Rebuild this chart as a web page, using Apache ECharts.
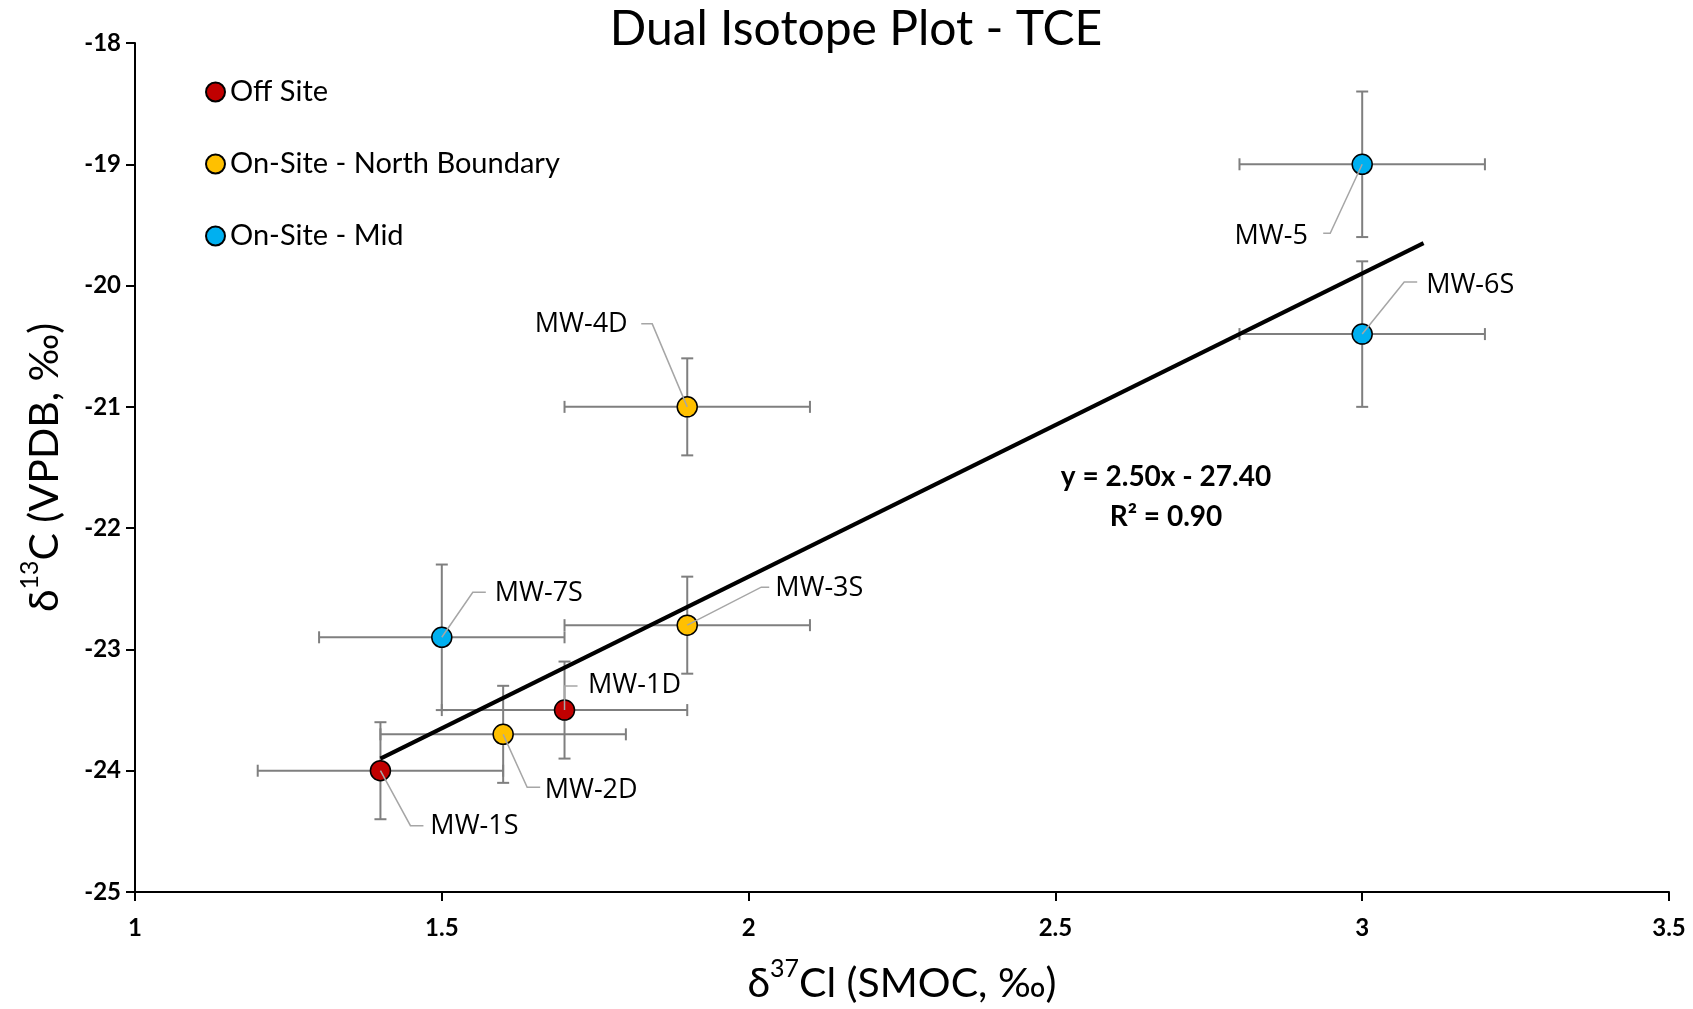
<!DOCTYPE html>
<html>
<head>
<meta charset="utf-8">
<script src="https://cdn.jsdelivr.net/npm/echarts@6/dist/echarts.min.js"></script>
<style>
html,body{margin:0;padding:0;background:#fff;}
#chart{width:1693px;height:1009px;}
</style>
</head>
<body>
<div id="chart"></div>
<script>
// ---------------- data ----------------
const groups = ['Off Site', 'On-Site - North Boundary', 'On-Site - Mid'];
const wellNames = ['MW-1S', 'MW-1D', 'MW-2D', 'MW-3S', 'MW-4D', 'MW-5', 'MW-6S', 'MW-7S'];
const wellGroup = [0, 0, 1, 1, 1, 2, 2, 2];
const cl37 = [1.4, 1.7, 1.6, 1.9, 1.9, 3.0, 3.0, 1.5];
const c13 = [-24.0, -23.5, -23.7, -22.8, -21.0, -19.0, -20.4, -22.9];
const cl37Err = [0.2, 0.2, 0.2, 0.2, 0.2, 0.2, 0.2, 0.2];
const c13Err = [0.4, 0.4, 0.4, 0.4, 0.4, 0.6, 0.6, 0.6];
const trendX = [1.4, 3.1];
const trendY = [-23.9, -19.65];
const xTicks = [1, 1.5, 2, 2.5, 3, 3.5];
const yTicks = [-25, -24, -23, -22, -21, -20, -19, -18];

// ---------------- styling (not data) ----------------
const groupColors = ['#C00000', '#FFC000', '#00B0F0'];
// label placement in pixels relative to the point: [labelDx, labelDy, elbowDx, elbowDy, endDx]
const labelPlace = {
  'MW-1S': [94, 56, 30, 55, 43],
  'MW-1D': [70, -25, 0, -24, 13],
  'MW-2D': [88, 56, 24, 53, 37],
  'MW-3S': [132, -37, 74, -38, 82],
  'MW-4D': [-106, -83, -35, -83, -46],
  'MW-5': [-91, 72, -32, 69, -39],
  'MW-6S': [108, -49, 42, -52, 55],
  'MW-7S': [97, -44, 31, -45, 44]
};

const chart = echarts.init(document.getElementById('chart'));

const scatterSeries = groups.map((g, gi) => ({
  name: g,
  type: 'scatter',
  symbol: 'circle',
  symbolSize: 20,
  z: 5,
  itemStyle: { color: groupColors[gi], borderColor: '#000', borderWidth: 1.5, opacity: 1 },
  data: wellNames.map((n, i) => wellGroup[i] === gi ? [cl37[i], c13[i]] : null).filter(d => d)
}));

const errData = wellNames.map((n, i) => [cl37[i], c13[i], cl37Err[i], c13Err[i]]);
const labelData = wellNames.map((n, i) => [cl37[i], c13[i], i]);

const barStyle = { stroke: '#7F7F7F', lineWidth: 2 };
const cap = 6;

const errorSeries = {
  type: 'custom',
  name: 'err',
  z: 3,
  silent: true,
  data: errData,
  renderItem: function (params, api) {
    const x = api.value(0), y = api.value(1), ex = api.value(2), ey = api.value(3);
    const l = api.coord([x - ex, y]), r = api.coord([x + ex, y]);
    const t = api.coord([x, y + ey]), b = api.coord([x, y - ey]);
    const seg = (x1, y1, x2, y2) => ({ type: 'line', shape: { x1, y1, x2, y2 }, style: barStyle });
    return {
      type: 'group',
      children: [
        seg(l[0], l[1], r[0], r[1]),
        seg(l[0], l[1] - cap, l[0], l[1] + cap),
        seg(r[0], r[1] - cap, r[0], r[1] + cap),
        seg(t[0], t[1], b[0], b[1]),
        seg(t[0] - cap, t[1], t[0] + cap, t[1]),
        seg(b[0] - cap, b[1], b[0] + cap, b[1])
      ]
    };
  }
};

const labelSeries = {
  type: 'custom',
  name: 'labels',
  z: 6,
  silent: true,
  data: labelData,
  renderItem: function (params, api) {
    const idx = api.value(2);
    const name = wellNames[idx];
    const p = labelPlace[name];
    const c = api.coord([api.value(0), api.value(1)]);
    return {
      type: 'group',
      children: [
        {
          type: 'polyline',
          shape: { points: [[c[0], c[1]], [c[0] + p[2], c[1] + p[3]], [c[0] + p[4], c[1] + p[3]]] },
          style: { stroke: '#A6A6A6', lineWidth: 1.5, fill: null }
        },
        {
          type: 'text',
          x: c[0] + p[0], y: c[1] + p[1],
          style: {
            text: name, fontFamily: 'Open Sans', fontSize: 27, fill: '#000',
            align: 'center', verticalAlign: 'middle'
          }
        }
      ]
    };
  }
};

const trendSeries = {
  type: 'line',
  name: 'trend',
  z: 4,
  silent: true,
  symbol: 'none',
  lineStyle: { color: '#000', width: 4 },
  data: trendX.map((x, i) => [x, trendY[i]])
};

const nameRich = {
  t: { fontFamily: 'Lato', fontSize: 41, color: '#000', lineHeight: 48, verticalAlign: 'bottom' },
  s: { fontFamily: 'Lato', fontSize: 25, color: '#000', lineHeight: 48, verticalAlign: 'top' }
};

const option = {
  backgroundColor: '#fff',
  animation: false,
  title: {
    text: 'Dual Isotope Plot - TCE',
    left: 851, top: 1, textAlign: 'center',
    textStyle: { fontFamily: 'Lato', fontWeight: 'normal', fontSize: 48, color: '#000' }
  },
  legend: {
    data: groups,
    orient: 'vertical',
    left: 205, top: 77,
    padding: 0,
    itemWidth: 19, itemHeight: 19,
    itemGap: 42,
    icon: 'circle',
    textStyle: { fontFamily: 'Lato', fontSize: 29, color: '#000', lineHeight: 30 }
  },
  grid: { left: 135, right: 24, top: 43, bottom: 114, containLabel: false },
  xAxis: {
    type: 'value', min: 1, max: 3.5, interval: 0.5,
    name: '{t|δ}{s|37}{t|Cl (SMOC, ‰)}',
    nameLocation: 'middle', nameGap: 64,
    nameTextStyle: { rich: nameRich },
    axisLine: { lineStyle: { color: '#000', width: 2 } },
    axisTick: { show: true, length: 9, inside: false, lineStyle: { color: '#000', width: 2 } },
    axisLabel: {
      fontFamily: 'Lato', fontWeight: 'bold', fontSize: 24, color: '#000', margin: 24,
      formatter: v => String(xTicks.find(t => Math.abs(t - v) < 1e-9) ?? v)
    },
    splitLine: { show: false }
  },
  yAxis: {
    type: 'value', min: -25, max: -18, interval: 1,
    name: '{t|δ}{s|13}{t|C (VPDB, ‰)}',
    nameLocation: 'middle', nameGap: 70,
    nameTextStyle: { rich: nameRich },
    axisLine: { show: true, lineStyle: { color: '#000', width: 2 } },
    axisTick: { show: true, length: 9, inside: false, lineStyle: { color: '#000', width: 2 } },
    axisLabel: {
      fontFamily: 'Lato', fontWeight: 'bold', fontSize: 24, color: '#000', margin: 14,
      formatter: v => String(yTicks.find(t => Math.abs(t - v) < 1e-9) ?? v)
    },
    splitLine: { show: false }
  },
  graphic: [
    {
      type: 'text', x: 1166, y: 477, z: 10,
      style: { text: 'y = 2.50x - 27.40', fontFamily: 'Lato', fontWeight: 'bold', fontSize: 28, fill: '#000', align: 'center', verticalAlign: 'middle' }
    },
    {
      type: 'text', x: 1166, y: 517, z: 10,
      style: { text: 'R² = 0.90', fontFamily: 'Lato', fontWeight: 'bold', fontSize: 28, fill: '#000', align: 'center', verticalAlign: 'middle' }
    }
  ],
  series: [errorSeries, trendSeries].concat(scatterSeries).concat([labelSeries])
};

chart.setOption(option);
</script>
</body>
</html>
